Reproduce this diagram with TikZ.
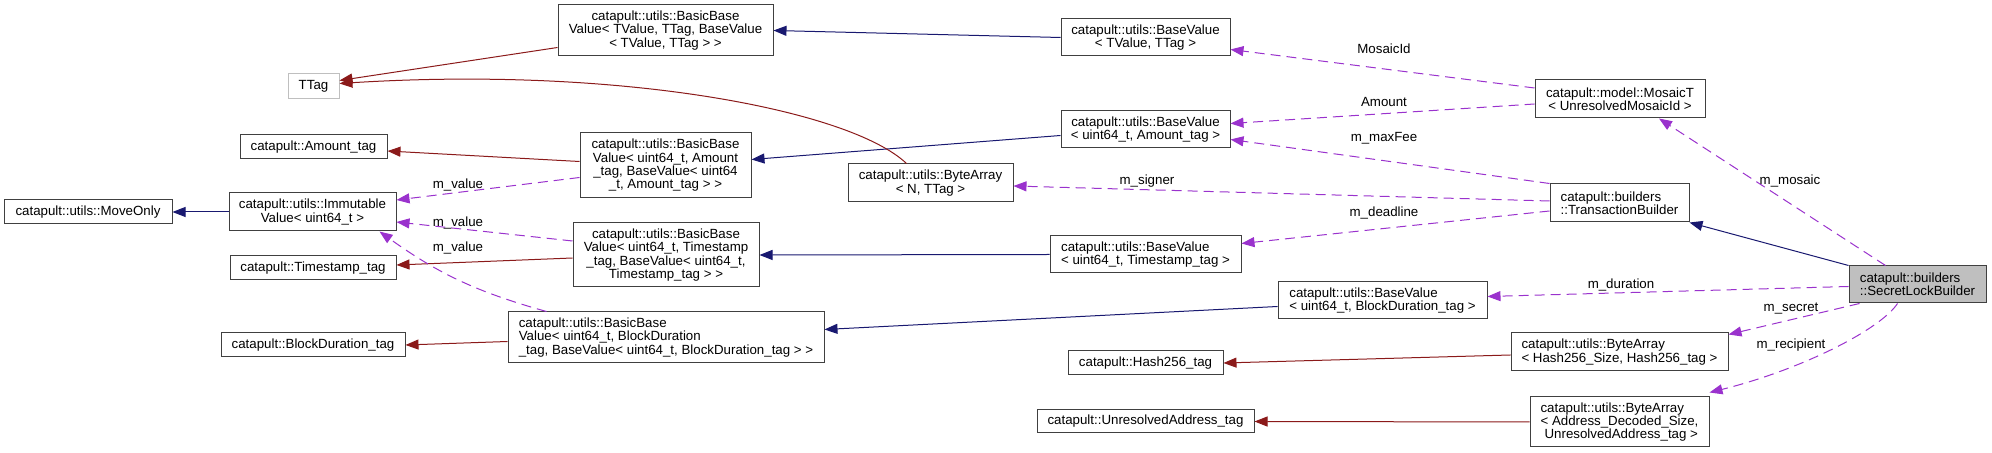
\documentclass[tikz,border=0pt]{standalone}
\usepackage{fontspec}
\setmainfont{Liberation Sans}
\usetikzlibrary{arrows.meta}
\definecolor{inhblue}{HTML}{191970}
\definecolor{tplred}{HTML}{8B1A1A}
\definecolor{usepurple}{HTML}{9A32CD}

\begin{document}
\begin{tikzpicture}[x=0.5pt,y=-0.5pt,
  font=\fontsize{6.65}{6.65}\selectfont,
  cls/.style={draw=black!75,line width=0.5pt,inner sep=0pt,align=center},
  lcls/.style={cls,align=left},
  inh/.style={draw=inhblue,line width=0.5pt,-{Triangle[length=6.5pt,width=5pt]}},
  tpl/.style={draw=tplred,line width=0.5pt,-{Triangle[length=6.5pt,width=5pt]}},
  use/.style={draw=usepurple,line width=0.5pt,dash pattern=on 5pt off 3pt,-{Triangle[length=6.5pt,width=5pt]}},
  lbl/.style={inner sep=0pt}]
\useasboundingbox (0,0) rectangle (1992,453);
\node [cls,draw=black!25,minimum width=25.5pt,minimum height=12.5pt] (ttag) at (313.5,86.5) {TTag};
\node [cls,minimum width=107.5pt,minimum height=25.5pt] (bbT) at (665.5,30.5) {catapult::utils::BasicBase\\Value< TValue, TTag, BaseValue\\< TValue, TTag > >};
\node [cls,minimum width=84.5pt,minimum height=18.5pt] (bvT) at (1145.5,37.5) {catapult::utils::BaseValue\\< TValue, TTag >};
\node [cls,minimum width=85pt,minimum height=19pt] (mosaic) at (1620,99) {catapult::model::MosaicT\\< UnresolvedMosaicId >};
\node [cls,minimum width=73.5pt,minimum height=12pt] (amounttag) at (313.5,147) {catapult::Amount\_tag};
\node [cls,minimum width=85.5pt,minimum height=32.5pt] (bbA) at (665.5,165.5) {catapult::utils::BasicBase\\Value< uint64\_t, Amount\\\_tag, BaseValue< uint64\\\_t, Amount\_tag > >};
\node [cls,minimum width=84.5pt,minimum height=18.5pt] (bvA) at (1145.5,129.5) {catapult::utils::BaseValue\\< uint64\_t, Amount\_tag >};
\node [cls,minimum width=82.5pt,minimum height=19pt] (baN) at (930.5,183) {catapult::utils::ByteArray\\< N, TTag >};
\node [lcls,minimum width=69.5pt,minimum height=19pt] (txb) at (1619.5,203) {catapult::builders\\::TransactionBuilder};
\node [cls,minimum width=84pt,minimum height=12pt] (moveonly) at (88,212) {catapult::utils::MoveOnly};
\node [cls,minimum width=83.5pt,minimum height=19pt] (immut) at (312.5,212) {catapult::utils::Immutable\\Value< uint64\_t >};
\node [cls,minimum width=93pt,minimum height=32pt] (bbTs) at (666,255) {catapult::utils::BasicBase\\Value< uint64\_t, Timestamp\\\_tag, BaseValue< uint64\_t,\\Timestamp\_tag > >};
\node [cls,minimum width=83pt,minimum height=12pt] (tstag) at (313,268) {catapult::Timestamp\_tag};
\node [lcls,minimum width=95.5pt,minimum height=18.5pt] (bvTs) at (1145.5,254.5) {catapult::utils::BaseValue\\< uint64\_t, Timestamp\_tag >};
\node [lcls,fill=black!25,minimum width=68.5pt,minimum height=18.5pt] (slb) at (1917.5,284.5) {catapult::builders\\::SecretLockBuilder};
\node [lcls,minimum width=104.5pt,minimum height=18.5pt] (bvBD) at (1382.5,300.5) {catapult::utils::BaseValue\\< uint64\_t, BlockDuration\_tag >};
\node [cls,minimum width=92pt,minimum height=12pt] (bdtag) at (313,345) {catapult::BlockDuration\_tag};
\node [lcls,minimum width=158pt,minimum height=25.5pt] (bbBD) at (666,337.5) {catapult::utils::BasicBase\\Value< uint64\_t, BlockDuration\\\_tag, BaseValue< uint64\_t, BlockDuration\_tag > >};
\node [cls,minimum width=77.5pt,minimum height=12pt] (hashtag) at (1145.5,363) {catapult::Hash256\_tag};
\node [lcls,minimum width=108.5pt,minimum height=19pt] (baH) at (1619.5,352) {catapult::utils::ByteArray\\< Hash256\_Size, Hash256\_tag >};
\node [cls,minimum width=108.5pt,minimum height=11.5pt] (addrtag) at (1145.5,421.5) {catapult::UnresolvedAddress\_tag};
\node [lcls,minimum width=89.5pt,minimum height=25pt] (baA) at (1619.5,422) {catapult::utils::ByteArray\\< Address\_Decoded\_Size,\\\hspace*{2pt}UnresolvedAddress\_tag >};
\draw [inh] (bvT.west) -- (bbT.east);
\draw [inh] ([yshift=-3pt]bvA.west) -- ([yshift=3pt]bbA.east);
\draw [inh] (bvTs.west) -- (bbTs.east);
\draw [inh] ([yshift=-3pt]bvBD.west) -- ([yshift=4pt]bbBD.east);
\draw [inh] (immut.west) -- (moveonly.east);
\draw [inh] (slb.north west) -- (txb.south east);
\draw [tpl] ([yshift=-8.5pt]bbT.west) -- ([yshift=3pt]ttag.east);
\draw [tpl] ([xshift=-12pt]baN.north) .. controls (850,110) and (620,66) .. ([yshift=1.5pt]ttag.east);
\draw [tpl] ([yshift=2pt]bbA.west) -- ([yshift=-2pt]amounttag.east);
\draw [tpl] ([yshift=-1.5pt]bbTs.west) -- ([yshift=1.5pt]tstag.east);
\draw [tpl] ([yshift=-2pt]bbBD.west) -- (bdtag.east);
\draw [tpl] ([yshift=-1.5pt]baH.west) -- (hashtag.east);
\draw [tpl] (baA.west) -- (addrtag.east);
\draw [use] ([yshift=5.5pt]mosaic.west) -- ([yshift=-6pt]bvT.east);
\draw [use] ([yshift=-2.5pt]mosaic.west) -- ([yshift=3pt]bvA.east);
\draw [use] (txb.north west) -- ([yshift=-5pt]bvA.east);
\draw [use] ([yshift=1pt]txb.west) -- ([yshift=-1.5pt]baN.east);
\draw [use] ([yshift=-4pt]txb.west) -- ([yshift=5.5pt]bvTs.east);
\draw [use] ([xshift=-16pt]slb.north) -- ([xshift=19.5pt]mosaic.south);
\draw [use] ([yshift=-1pt]slb.west) -- ([yshift=2pt]bvBD.east);
\draw [use] ([xshift=5.5pt]slb.south west) -- ([yshift=-1pt]baH.north east);
\draw [use] ([xshift=-10pt]slb.south) .. controls (1880,330) and (1800,370) .. ([yshift=2pt]baA.north east);
\draw [use] ([yshift=-6pt]bbA.west) -- ([yshift=6pt]immut.east);
\draw [use] ([yshift=7pt]bbTs.west) -- ([yshift=-5pt]immut.east);
\draw [use] ([xshift=19.5pt]bbBD.north west) to [bend left=10] ([xshift=-8.5pt]immut.south east);
\node [lbl] (lmosaicid) at (1384,49) {MosaicId};
\node [lbl] (lamount) at (1384,102) {Amount};
\node [lbl] (lmaxfee) at (1384,138) {m\_maxFee};
\node [lbl] (lsigner) at (1147,181) {m\_signer};
\node [lbl] (ldeadline) at (1384,213) {m\_deadline};
\node [lbl] (lmosaic) at (1790,181) {m\_mosaic};
\node [lbl] (lduration) at (1621,285) {m\_duration};
\node [lbl] (lsecret) at (1791,309) {m\_secret};
\node [lbl] (lrecipient) at (1791,345) {m\_recipient};
\node [lbl] (lvalueA) at (458,185) {m\_value};
\node [lbl] (lvalueB) at (458,223) {m\_value};
\node [lbl] (lvalueC) at (458,248) {m\_value};
\end{tikzpicture}
\end{document}
